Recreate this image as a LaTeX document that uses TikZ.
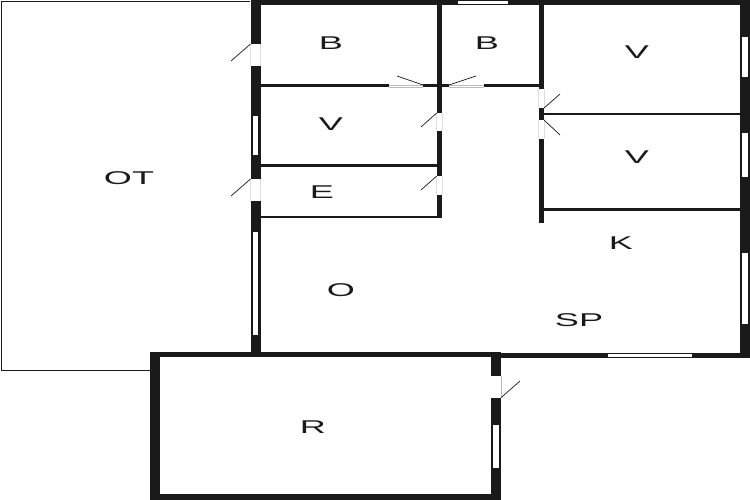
\documentclass[tikz,border=0pt]{standalone}
\usepackage{fontspec}
\setmainfont{Liberation Sans}
\definecolor{wallc}{HTML}{1A1A1A}
\definecolor{sillc}{HTML}{BBBBBB}
\definecolor{sillv}{HTML}{DDDDDD}
\tikzset{
  wallr/.style={fill=wallc,draw=none},
  openr/.style={fill=white,draw=none},
  swing/.style={draw=wallc,line width=0.7pt},
  thinl/.style={draw=wallc,line width=1pt},
  sill/.style={draw=sillc,line width=0.5pt},
  sillb/.style={draw=sillv,line width=0.5pt},
  lbl/.style={font=\fontsize{18.5}{18.5}\selectfont,text=wallc,inner sep=0pt,xscale=1.95}
}
\newcommand{\wl}[4]{\path[wallr] (#1,#2) rectangle (#3,#4);}
\newcommand{\op}[4]{\path[openr] (#1,#2) rectangle (#3,#4);}
\begin{document}
\begin{tikzpicture}[x=1pt,y=-1pt]
\useasboundingbox (0,0) rectangle (750,500);
\fill[white] (0,0) rectangle (750,500);
% OT terrace outline
\draw[thinl] (250,1.5) -- (1,1.5) -- (1,370) -- (150,370);
% outer walls of the flat
\wl{250.5}{0}{750}{5}
\wl{250.5}{0}{260.5}{352}
\wl{740}{0}{750}{358}
\wl{250.5}{352.5}{750}{358}
% inner walls
\wl{436.7}{5}{442}{218}
\wl{260}{84.5}{389}{87.5}
\wl{423}{84.5}{449}{87.5}
\wl{484}{84.5}{541}{87.5}
\wl{260}{164}{437}{167}
\wl{260}{215.5}{442}{218}
\wl{538.7}{5}{544.3}{223}
\wl{544}{112.7}{740}{115.3}
\wl{544}{207.7}{740}{210.7}
% R room
\wl{150}{351.7}{501}{500}
\op{160}{356.7}{491}{494}
% door openings
\op{250}{44}{261}{66}
\op{250}{179}{261}{201}
\op{436}{113}{443}{131}
\op{436}{176}{443}{195}
\op{538}{89}{545}{108}
\op{538}{120}{545}{138.7}
\op{490}{375.7}{502}{397.7}
% windows
\op{458}{1}{508}{4}
\op{742}{37}{748}{77}
\op{742}{133}{748}{177}
\op{742}{253}{748}{324}
\op{608}{354}{692}{356.5}
\op{252.5}{116}{258}{155}
\op{252.5}{232}{258}{335}
\op{492.7}{425}{499}{467.7}
% door sills
\draw[sill] (389,85) -- (423,85) (389,87) -- (423,87);
\draw[sill] (449,85) -- (484,85) (449,87) -- (484,87);
\draw[sill] (501,375.7) -- (501,397.7);
\draw[sillb] (250.5,44) -- (250.5,66) (260.5,44) -- (260.5,66);
\draw[sillb] (250.5,179) -- (250.5,201) (260.5,179) -- (260.5,201);
\draw[sillb] (436.7,113) -- (436.7,131) (442,113) -- (442,131);
\draw[sillb] (436.7,176) -- (436.7,195) (442,176) -- (442,195);
\draw[sillb] (538.7,89) -- (538.7,108) (544.3,89) -- (544.3,108);
\draw[sillb] (538.7,120) -- (538.7,138.7) (544.3,120) -- (544.3,138.7);
% door swings
\draw[swing] (250.5,44) -- (231,61);
\draw[swing] (250.5,179) -- (231,196);
\draw[swing] (436.7,113) -- (421,127);
\draw[swing] (436.7,176) -- (421,190);
\draw[swing] (423,85) -- (397,76);
\draw[swing] (449,85) -- (476,76);
\draw[swing] (544,108) -- (560,94);
\draw[swing] (544,120) -- (560,135);
\draw[swing] (501,397.7) -- (520,381);
% labels
\node[lbl] (lb1) at (331,43.6) {B};
\node[lbl] (lb2) at (487,43.6) {B};
\node[lbl] (lv1) at (637,52.6) {V};
\node[lbl] (lv2) at (331,124.6) {V};
\node[lbl] (lv3) at (637,157.6) {V};
\node[lbl] (le) at (322,192.6) {E};
\node[lbl] (lot) at (129,178.6) {OT};
\node[lbl] (lk) at (621,243.6) {K};
\node[lbl] (lo) at (341,290.6) {O};
\node[lbl] (lsp) at (579,320.4) {SP};
\node[lbl] (lr) at (313,427.6) {R};
\end{tikzpicture}
\end{document}
